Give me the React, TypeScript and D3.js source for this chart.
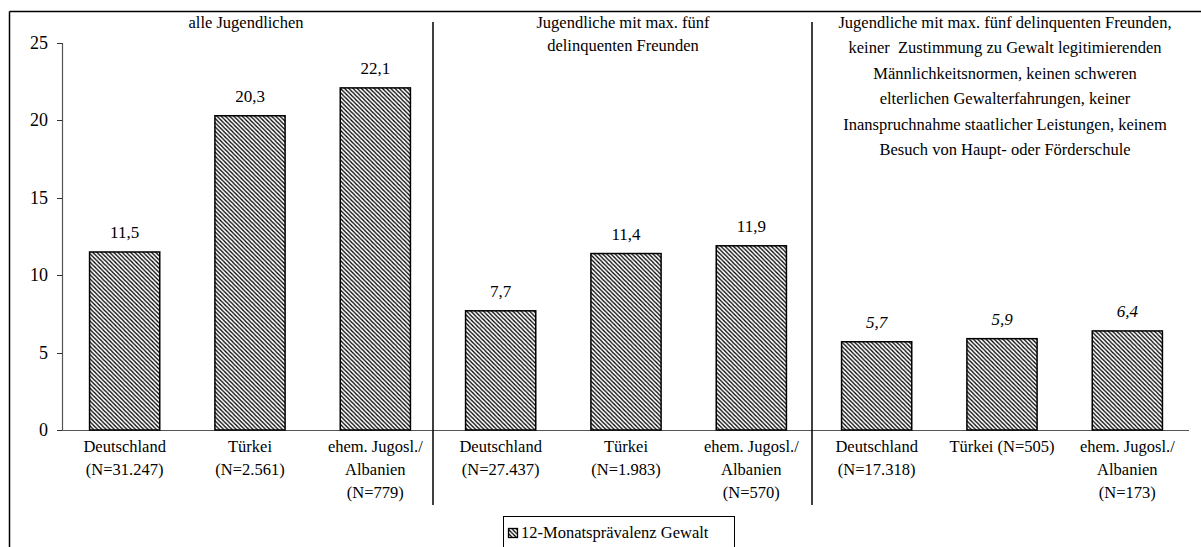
import React from "react";
import * as d3 from "d3";

const values: number[] = [11.5, 20.3, 22.1, 7.7, 11.4, 11.9, 5.7, 5.9, 6.4];
const valueLabels: string[] = ["11,5", "20,3", "22,1", "7,7", "11,4", "11,9", "5,7", "5,9", "6,4"];
const italicLabel: boolean[] = [false, false, false, false, false, false, true, true, true];
const categoryLabels: string[][] = [
  ["Deutschland", "(N=31.247)"],
  ["Türkei", "(N=2.561)"],
  ["ehem. Jugosl./", "Albanien", "(N=779)"],
  ["Deutschland", "(N=27.437)"],
  ["Türkei", "(N=1.983)"],
  ["ehem. Jugosl./", "Albanien", "(N=570)"],
  ["Deutschland", "(N=17.318)"],
  ["Türkei (N=505)"],
  ["ehem. Jugosl./", "Albanien", "(N=173)"],
];
const groupHeaders: string[][] = [
  ["alle Jugendlichen"],
  ["Jugendliche mit max. fünf", "delinquenten Freunden"],
  [
    "Jugendliche mit max. fünf delinquenten Freunden,",
    "keiner  Zustimmung zu Gewalt legitimierenden",
    "Männlichkeitsnormen, keinen schweren",
    "elterlichen Gewalterfahrungen, keiner",
    "Inanspruchnahme staatlicher Leistungen, keinem",
    "Besuch von Haupt- oder Förderschule",
  ],
];
const yTicks: number[] = [0, 5, 10, 15, 20, 25];
const legendLabel = "12-Monatsprävalenz Gewalt";

const W = 1201;
const H = 547;
const FONT =
  "'Liberation Serif', 'DejaVu Serif', 'Noto Serif', 'Times New Roman', Times, FreeSerif, 'Nimbus Roman', serif";

export default function App() {
  const x = d3
    .scaleBand<number>()
    .domain(values.map((_, i) => i))
    .range([62, 1190])
    .paddingInner(0.44)
    .paddingOuter(0.22);
  const y = d3.scaleLinear().domain([0, 25]).range([430, 43]);
  const step = x.step();
  const bw = x.bandwidth();
  const sepOffsets = [-5, -2];
  const seps = [3, 6].map((k, j) => (x(k - 1) as number) + bw + (step - bw) / 2 + sepOffsets[j]);
  const groupCenters = [0, 1, 2].map((g) => ((x(g * 3) as number) + (x(g * 3 + 2) as number) + bw) / 2);
  const headerSpacing = [23, 23, 25.4];
  const groupShift = [-4, -3, 3];
  const ts: React.CSSProperties = { fontFamily: FONT, whiteSpace: "pre" };

  return (
    <svg
      width={W}
      height={H}
      style={{ position: "absolute", left: 0, top: 0, background: "#fff", fontFamily: FONT }}
    >
      <defs>
        <pattern id="hatch" patternUnits="userSpaceOnUse" width={4.2} height={4.2}>
          <rect width={4.2} height={4.2} fill="#fff" />
          <path d="M-1,-1 L5.2,5.2 M-1,3.2 L1,5.2 M3.2,-1 L5.2,1" stroke="#000" strokeWidth={1.3} />
        </pattern>
      </defs>
      <rect x={0} y={0} width={W} height={H} fill="#fff" />
      {/* outer frame */}
      <line x1={9.5} y1={11.5} x2={W} y2={11.5} stroke="#000" strokeWidth={1.5} />
      <line x1={9.5} y1={11.5} x2={9.5} y2={H} stroke="#000" strokeWidth={1.5} />

      {/* y axis */}
      <line x1={62.5} y1={y(25)} x2={62.5} y2={y(0)} stroke="#555" strokeWidth={1.2} />
      {yTicks.map((t) => (
        <g key={t}>
          <line x1={57} x2={62.5} y1={Math.round(y(t)) + 0.5} y2={Math.round(y(t)) + 0.5} stroke="#333" strokeWidth={1} />
          <text x={48} y={y(t) + 6} textAnchor="end" fontSize={18} fill="#000" style={ts}>
            {t}
          </text>
        </g>
      ))}
      {/* x axis */}
      <line x1={62} x2={1189} y1={y(0) + 0.5} y2={y(0) + 0.5} stroke="#555" strokeWidth={1.2} />

      {/* bars */}
      {values.map((v, i) => (
        <rect
          key={i}
          x={x(i) as number}
          y={y(v)}
          width={bw}
          height={y(0) - y(v)}
          fill="url(#hatch)"
          stroke="#000"
          strokeWidth={1.5}
        />
      ))}
      {values.map((v, i) => (
        <text
          key={"v" + i}
          x={(x(i) as number) + bw / 2}
          y={y(v) - 14}
          textAnchor="middle"
          fontSize={17}
          fontStyle={italicLabel[i] ? "italic" : "normal"}
          fill="#000"
          style={ts}
        >
          {valueLabels[i]}
        </text>
      ))}

      {/* category labels */}
      {categoryLabels.map((lines, i) =>
        lines.map((ln, j) => (
          <text
            key={"c" + i + "-" + j}
            x={(x(i) as number) + bw / 2}
            y={452 + j * 23}
            textAnchor="middle"
            fontSize={16.5}
            fill="#000"
            style={ts}
          >
            {ln}
          </text>
        ))
      )}

      {/* separators */}
      {seps.map((sx, i) => (
        <line key={"s" + i} x1={sx} x2={sx} y1={22} y2={505} stroke="#000" strokeWidth={1.5} />
      ))}

      {/* group headers */}
      {groupHeaders.map((lines, g) =>
        lines.map((ln, j) => (
          <text
            key={"h" + g + "-" + j}
            x={groupCenters[g] + groupShift[g]}
            y={28 + j * headerSpacing[g]}
            textAnchor="middle"
            fontSize={16.5}
            fill="#000"
            style={ts}
          >
            {ln}
          </text>
        ))
      )}

      {/* legend */}
      <rect x={503.5} y={516.5} width={231} height={40} fill="#fff" stroke="#000" strokeWidth={1} />
      <rect x={508.5} y={528.5} width={9} height={9} fill="url(#hatch)" stroke="#000" strokeWidth={1.3} />
      <text x={521} y={538} fontSize={16.5} fill="#000" style={ts}>
        {legendLabel}
      </text>
    </svg>
  );
}
